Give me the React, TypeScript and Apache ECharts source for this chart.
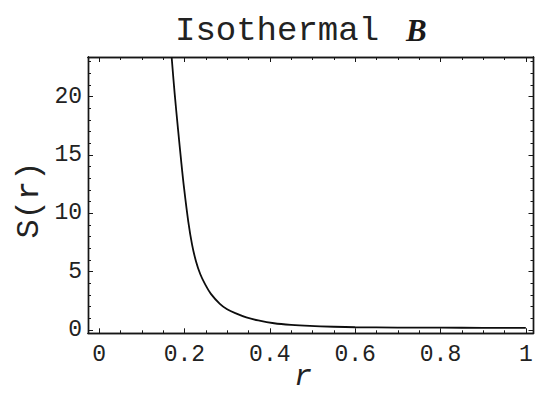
import React, { useEffect, useRef } from "react";
import * as echarts from "echarts";

// Curve data
const rValues = [0.170, 0.177, 0.185, 0.192, 0.199, 0.209, 0.218, 0.227, 0.237, 0.248, 0.262, 0.283, 0.300, 0.322, 0.345, 0.373, 0.410, 0.450, 0.494, 0.550, 0.600, 0.700, 0.800, 0.900, 1.000];
const sValues = [23.4, 20.3, 17.2, 14.6, 12.2, 9.3, 7.3, 5.9, 4.8, 3.95, 3.1, 2.25, 1.78, 1.4, 1.08, 0.82, 0.58, 0.44, 0.35, 0.28, 0.24, 0.21, 0.2, 0.19, 0.19];

// Axes
const xMajorTicks = [0, 0.2, 0.4, 0.6, 0.8, 1];
const xTickLabels = ["0", "0.2", "0.4", "0.6", "0.8", "1"];
const xMinorTicks = [0.05, 0.1, 0.15, 0.25, 0.3, 0.35, 0.45, 0.5, 0.55, 0.65, 0.7, 0.75, 0.85, 0.9, 0.95];
const yMajorTicks = [0, 5, 10, 15, 20];
const yTickLabels = ["0", "5", "10", "15", "20"];
const yMinorTicks = [1, 2, 3, 4, 6, 7, 8, 9, 11, 12, 13, 14, 16, 17, 18, 19, 21, 22, 23];

const X_MIN = -0.026;
const X_MAX = 1.018;
const Y_MIN = -0.28;
const Y_MAX = 23.4;

const TITLE_TEXT = "Isothermal";
const TITLE_SYMBOL = "B";
const Y_NAME = "S(r)";
const X_NAME = "r";

const INK = "#161616";
const MONO = "Liberation Mono";
const SERIF = "Liberation Serif";

function labelFor(value: number, ticks: number[], labels: string[]) {
  for (let i = 0; i < ticks.length; i++) {
    if (Math.abs(ticks[i] - value) < 1e-9) return labels[i];
  }
  return "";
}

export default function App() {
  const ref = useRef<HTMLDivElement>(null);

  useEffect(() => {
    if (!ref.current) return;
    const chart = echarts.init(ref.current, undefined, { renderer: "svg" });

    const gridPos = { left: 88, right: 3.5, top: 57, bottom: 59.7, containLabel: false };

    const xAxisBase = (gridIndex: number, position: string, ticks: number[], len: number, withLabels: boolean) => ({
      type: "value",
      gridIndex,
      position,
      min: X_MIN,
      max: X_MAX,
      splitLine: { show: false },
      axisLine: { show: true, onZero: false, lineStyle: { color: INK, width: 1.4 } },
      axisTick: { show: true, inside: true, length: len, customValues: ticks, lineStyle: { color: INK, width: 1 } },
      axisLabel: withLabels
        ? {
            show: true,
            customValues: ticks,
            margin: 10,
            color: "#222",
            fontFamily: MONO,
            fontSize: 23,
            formatter: (v: number) => labelFor(v, xMajorTicks, xTickLabels),
          }
        : { show: false },
    });

    const yAxisBase = (gridIndex: number, position: string, ticks: number[], len: number, withLabels: boolean) => ({
      type: "value",
      gridIndex,
      position,
      min: Y_MIN,
      max: Y_MAX,
      splitLine: { show: false },
      axisLine: { show: true, onZero: false, lineStyle: { color: INK, width: 1.4 } },
      axisTick: { show: true, inside: true, length: len, customValues: ticks, lineStyle: { color: INK, width: 1 } },
      axisLabel: withLabels
        ? {
            show: true,
            customValues: ticks,
            margin: 6,
            color: "#222",
            fontFamily: MONO,
            fontSize: 23,
            formatter: (v: number) => labelFor(v, yMajorTicks, yTickLabels),
          }
        : { show: false },
    });

    const option: any = {
      animation: false,
      backgroundColor: "#ffffff",
      grid: [gridPos, gridPos],
      xAxis: [
        xAxisBase(0, "bottom", xMajorTicks, 5, true),
        xAxisBase(0, "top", xMajorTicks, 5, false),
        xAxisBase(1, "bottom", xMinorTicks, 3, false),
        xAxisBase(1, "top", xMinorTicks, 3, false),
      ],
      yAxis: [
        yAxisBase(0, "left", yMajorTicks, 5, true),
        yAxisBase(0, "right", yMajorTicks, 5, false),
        yAxisBase(1, "left", yMinorTicks, 3, false),
        yAxisBase(1, "right", yMinorTicks, 3, false),
      ],
      series: [
        {
          type: "line",
          xAxisIndex: 0,
          yAxisIndex: 0,
          data: rValues.map((r, i) => [r, sValues[i]]),
          showSymbol: false,
          smooth: 0.35,
          clip: true,
          lineStyle: { color: "#0d0d0d", width: 1.8 },
        },
      ],
      graphic: [
        {
          type: "text",
          x: 175,
          y: 31,
          style: {
            text: TITLE_TEXT,
            fill: "#222",
            fontFamily: MONO,
            fontSize: 34,
            fontWeight: "normal",
            textAlign: "left",
            textVerticalAlign: "middle",
          },
        },
        {
          type: "text",
          x: 406,
          y: 30,
          style: {
            text: TITLE_SYMBOL,
            fill: "#1a1a1a",
            fontFamily: SERIF,
            fontSize: 31,
            fontWeight: "bold",
            fontStyle: "italic",
            textAlign: "left",
            textVerticalAlign: "middle",
          },
        },
        {
          type: "text",
          x: 29,
          y: 200,
          rotation: Math.PI / 2,
          style: {
            text: Y_NAME,
            fill: "#222",
            fontFamily: MONO,
            fontSize: 32,
            textAlign: "center",
            textVerticalAlign: "middle",
          },
        },
        {
          type: "text",
          x: 303,
          y: 392,
          style: {
            text: X_NAME,
            fill: "#222",
            fontFamily: MONO,
            fontSize: 30,
            fontStyle: "italic",
            textAlign: "center",
            textVerticalAlign: "bottom",
          },
        },
      ],
    };

    chart.setOption(option);
    return () => chart.dispose();
  }, []);

  return (
    <div
      ref={ref}
      style={{ position: "absolute", left: 0, top: 0, width: 537, height: 393, background: "#fff" }}
    />
  );
}
